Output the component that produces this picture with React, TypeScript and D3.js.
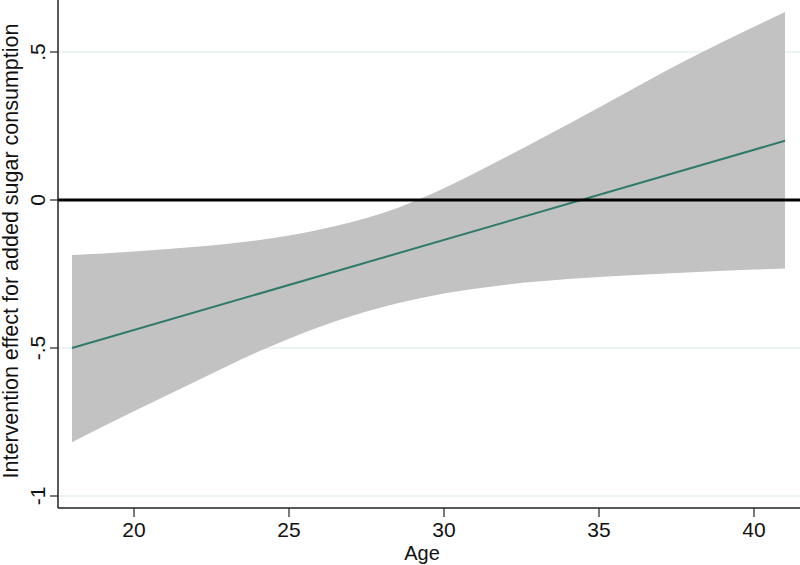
import React from "react";
import * as d3 from "d3";

const ages = [18, 20, 22, 24, 26, 28, 30, 32, 34, 36, 38, 40, 41];
const upperCI = [-0.186, -0.174, -0.158, -0.136, -0.1, -0.045, 0.04, 0.145, 0.256, 0.37, 0.482, 0.585, 0.635];
const lowerCI = [-0.818, -0.714, -0.612, -0.513, -0.428, -0.362, -0.316, -0.286, -0.267, -0.254, -0.244, -0.235, -0.231];

// fitted effect line (two end points)
const lineAges = [18, 41];
const lineVals = [-0.5, 0.2];

const xTicks = [20, 25, 30, 35, 40];
const yTicks = [0.5, 0, -0.5, -1];
const yTickLabels = [".5", "0", "-.5", "-1"];

const W = 800;
const H = 565;
const font = "Arial, 'Liberation Sans', sans-serif";

export default function App() {
  const x = d3.scaleLinear().domain([20, 40]).range([134, 754]);
  const y = d3.scaleLinear().domain([-1, 0.5]).range([496, 52]);

  const axisX = 58;
  const axisY = 508;

  const band = ages.map((a, i) => ({ a, lo: lowerCI[i], hi: upperCI[i] }));
  const area = d3.area<{ a: number; lo: number; hi: number }>()
    .x(d => x(d.a))
    .y0(d => y(d.lo))
    .y1(d => y(d.hi))
    .curve(d3.curveMonotoneX);

  const fit = lineAges.map((a, i) => [x(a), y(lineVals[i])] as [number, number]);
  const line = d3.line();

  return (
    <svg width={W} height={H} style={{ position: "absolute", left: 0, top: 0, background: "#fff" }}>
      {/* grid */}
      {yTicks.filter(t => t !== 0).map(t => (
        <line key={"g" + t} x1={axisX} x2={W} y1={y(t)} y2={y(t)} stroke="#e6f0f2" strokeWidth={1.5} />
      ))}

      <path d={area(band) || ""} fill="#c2c2c2" />
      <path d={line(fit) || ""} fill="none" stroke="#2f7a6b" strokeWidth={2} />

      {/* reference line at 0 */}
      <line x1={axisX} x2={W} y1={y(0)} y2={y(0)} stroke="#000" strokeWidth={3} />

      {/* axes */}
      <line x1={axisX} x2={axisX} y1={0} y2={axisY} stroke="#222" strokeWidth={1.5} />
      <line x1={axisX} x2={W} y1={axisY} y2={axisY} stroke="#222" strokeWidth={1.5} />

      {yTicks.map((t, i) => (
        <g key={"y" + t}>
          <line x1={axisX - 8} x2={axisX} y1={y(t)} y2={y(t)} stroke="#222" strokeWidth={1.2} />
          <text
            x={45}
            y={y(t)}
            transform={`rotate(-90, 45, ${y(t)})`}
            textAnchor="middle"
            fontFamily={font}
            fontSize={21}
            fill="#111"
          >
            {yTickLabels[i]}
          </text>
        </g>
      ))}

      {xTicks.map(t => (
        <g key={"x" + t}>
          <line x1={x(t)} x2={x(t)} y1={axisY} y2={axisY + 9} stroke="#222" strokeWidth={1.2} />
          <text x={x(t)} y={537} textAnchor="middle" fontFamily={font} fontSize={21} fill="#111">
            {t}
          </text>
        </g>
      ))}

      <text x={422} y={560} textAnchor="middle" fontFamily={font} fontSize={20} fill="#111">
        Age
      </text>
      <text
        x={18}
        y={251}
        transform="rotate(-90, 18, 251)"
        textAnchor="middle"
        fontFamily={font}
        fontSize={21.5}
        fill="#111"
      >
        Intervention effect for added sugar consumption
      </text>
    </svg>
  );
}
